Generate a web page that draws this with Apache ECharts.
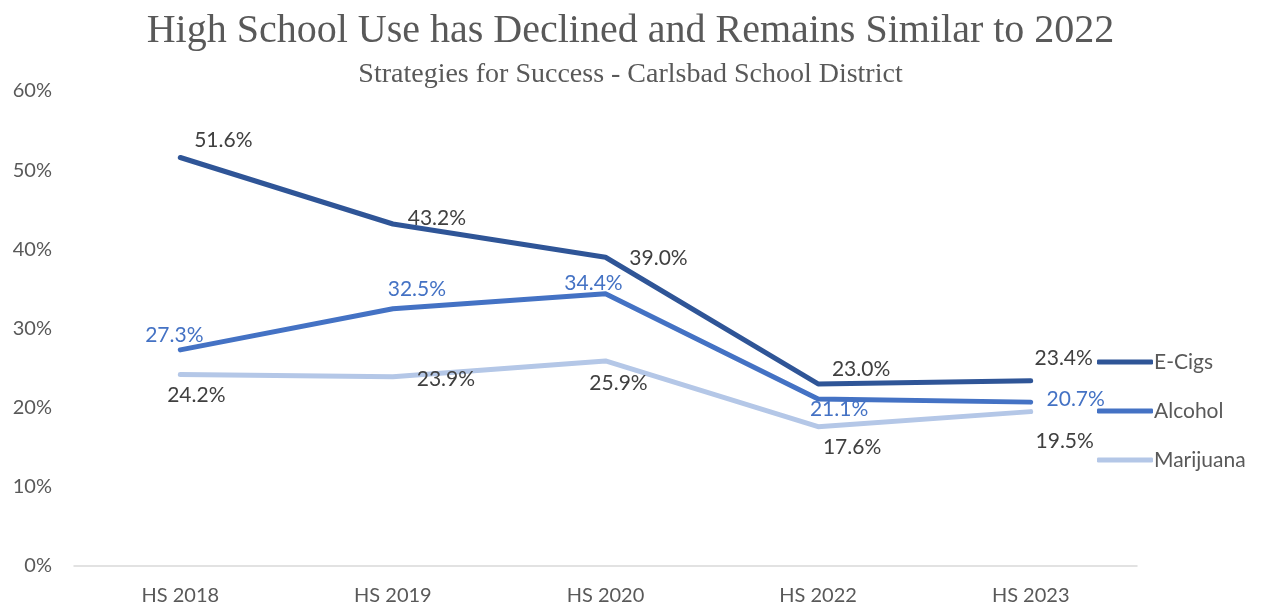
<!DOCTYPE html>
<html>
<head>
<meta charset="utf-8">
<script src="https://cdn.jsdelivr.net/npm/echarts@6/dist/echarts.min.js"></script>
<style>
  html, body { margin: 0; padding: 0; background: #ffffff; }
  #chart { width: 1261px; height: 608px; }
</style>
</head>
<body>
<div id="chart"></div>
<script>
// Survey years and usage rates (percent of high school students)
const categories = ['HS 2018', 'HS 2019', 'HS 2020', 'HS 2022', 'HS 2023'];
const eCigs = [51.6, 43.2, 39.0, 23.0, 23.4];
const alcohol = [27.3, 32.5, 34.4, 21.1, 20.7];
const marijuana = [24.2, 23.9, 25.9, 17.6, 19.5];
const yAxisMin = 0, yAxisMax = 60, yAxisStep = 10;

// Pixel nudges for each value label, relative to its point
const eCigsLabelShift = [[43, -17], [44, -6], [53, 1], [43, -15], [33, -23]];
const alcoholLabelShift = [[-6, -15], [24, -19], [-12, -10], [21, 10], [45, -3]];
const marijuanaLabelShift = [[16, 21], [53, 2], [13, 22], [34, 21], [34, 30]];

const FONT = 'Lato, "Open Sans", sans-serif';
const SERIF = '"Liberation Serif", "DejaVu Serif", serif';

function points(values, shifts, color) {
  return values.map((v, i) => ({
    value: v,
    label: {
      show: true,
      position: 'inside',
      offset: shifts[i],
      align: 'center',
      verticalAlign: 'middle',
      formatter: (p) => p.value.toFixed(1) + '%',
      color: color,
      fontFamily: FONT,
      fontSize: 21
    }
  }));
}

function lineSeries(name, values, shifts, lineColor, labelColor) {
  return {
    name: name,
    type: 'line',
    data: points(values, shifts, labelColor),
    symbol: 'circle',
    symbolSize: 1,
    showSymbol: true,
    itemStyle: { color: lineColor },
    lineStyle: { color: lineColor, width: 5, cap: 'round', join: 'round' },
    emphasis: { disabled: true },
    animation: false
  };
}

const chart = echarts.init(document.getElementById('chart'), null, { renderer: 'canvas' });
chart.setOption({
  backgroundColor: '#ffffff',
  title: [
    {
      text: 'High School Use has Declined and Remains Similar to 2022',
      left: 'center',
      top: 6,
      textStyle: { fontFamily: SERIF, fontSize: 40, fontWeight: 'normal', color: '#595959' }
    },
    {
      text: 'Strategies for Success - Carlsbad School District',
      left: 'center',
      top: 56,
      textStyle: { fontFamily: SERIF, fontSize: 28, fontWeight: 'normal', color: '#595959' }
    }
  ],
  legend: {
    orient: 'vertical',
    left: 1092,
    top: 345,
    itemWidth: 56,
    itemHeight: 5,
    itemGap: 25,
    icon: 'roundRect',
    itemStyle: { opacity: 1 },
    data: ['E-Cigs', 'Alcohol', 'Marijuana'],
    textStyle: { fontFamily: FONT, fontSize: 21, color: '#595959', lineHeight: 24, padding: [0, 0, 0, -4] }
  },
  grid: { left: 74, right: 124, top: 91, bottom: 42, containLabel: false },
  xAxis: {
    type: 'category',
    data: categories,
    boundaryGap: true,
    axisLine: { lineStyle: { color: '#d9d9d9', width: 1.5 } },
    axisTick: { show: false },
    axisLabel: { fontFamily: FONT, fontSize: 20, color: '#595959', margin: 20 }
  },
  yAxis: {
    type: 'value',
    min: yAxisMin,
    max: yAxisMax,
    interval: yAxisStep,
    axisLine: { show: false },
    axisTick: { show: false },
    splitLine: { show: false },
    axisLabel: { fontFamily: FONT, fontSize: 20, color: '#595959', margin: 22, formatter: '{value}%' }
  },
  series: [
    lineSeries('Marijuana', marijuana, marijuanaLabelShift, '#b4c7e7', '#404040'),
    lineSeries('Alcohol', alcohol, alcoholLabelShift, '#4472c4', '#4472c4'),
    lineSeries('E-Cigs', eCigs, eCigsLabelShift, '#2f5597', '#404040')
  ]
});
</script>
</body>
</html>
